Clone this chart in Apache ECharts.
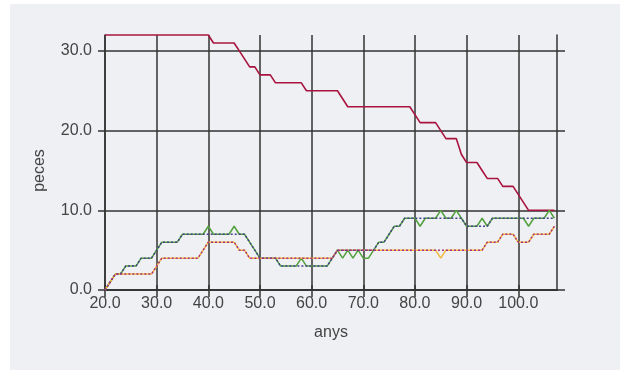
<!DOCTYPE html>
<html>
<head>
<meta charset="utf-8">
<script src="https://cdn.jsdelivr.net/npm/echarts@6/dist/echarts.min.js"></script>
<style>
  html, body { margin: 0; padding: 0; background: #ffffff; }
  #chart { position: absolute; left: 10px; top: 4px; width: 610px; height: 366px; }
</style>
</head>
<body>
<div id="chart"></div>
<script>
// ---- data ----
const years = [20,21,22,23,24,25,26,27,28,29,
  30,31,32,33,34,35,36,37,38,39,
  40,41,42,43,44,45,46,47,48,49,
  50,51,52,53,54,55,56,57,58,59,
  60,61,62,63,64,65,66,67,68,69,
  70,71,72,73,74,75,76,77,78,79,
  80,81,82,83,84,85,86,87,88,89,
  90,91,92,93,94,95,96,97,98,99,
  100,101,102,103,104,105,106,107];

const redSeries = [32,32,32,32,32,32,32,32,32,32,
  32,32,32,32,32,32,32,32,32,32,
  32,31,31,31,31,31,30,29,28,28,
  27,27,27,26,26,26,26,26,26,25,
  25,25,25,25,25,25,24,23,23,23,
  23,23,23,23,23,23,23,23,23,23,
  22,21,21,21,21,20,19,19,19,17,
  16,16,16,15,14,14,14,13,13,13,
  12,11,10,10,10,10,10,10];

const greenSeries = [0,1,2,2,3,3,3,4,4,4,
  5,6,6,6,6,7,7,7,7,7,
  8,7,7,7,7,8,7,7,6,5,
  4,4,4,4,3,3,3,3,4,3,
  3,3,3,3,4,5,4,5,4,5,
  4,4,5,6,6,7,8,8,9,9,
  9,8,9,9,9,10,9,9,10,9,
  8,8,8,9,8,9,9,9,9,9,
  9,9,8,9,9,9,10,9];

const blueSeries = [0,1,2,2,3,3,3,4,4,4,
  5,6,6,6,6,7,7,7,7,7,
  7,7,7,7,7,7,7,7,6,5,
  4,4,4,4,3,3,3,3,3,3,
  3,3,3,3,4,5,5,5,5,5,
  5,5,5,6,6,7,8,8,9,9,
  9,9,9,9,9,9,9,9,9,9,
  8,8,8,8,8,9,9,9,9,9,
  9,9,9,9,9,9,9,9];

const orangeSeries = [0,1,2,2,2,2,2,2,2,2,
  3,4,4,4,4,4,4,4,4,5,
  6,6,6,6,6,6,5,5,4,4,
  4,4,4,4,4,4,4,4,4,4,
  4,4,4,4,4,5,5,5,5,5,
  5,5,5,5,5,5,5,5,5,5,
  5,5,5,5,5,4,5,5,5,5,
  5,5,5,5,6,6,6,7,7,7,
  6,6,6,7,7,7,7,8];

const magentaSeries = [0,1,2,2,2,2,2,2,2,2,
  3,4,4,4,4,4,4,4,4,5,
  6,6,6,6,6,6,5,5,4,4,
  4,4,4,4,4,4,4,4,4,4,
  4,4,4,4,4,5,5,5,5,5,
  5,5,5,5,5,5,5,5,5,5,
  5,5,5,5,5,5,5,5,5,5,
  5,5,5,5,6,6,6,7,7,7,
  6,6,6,7,7,7,7,8];

const xTicks = [20,30,40,50,60,70,80,90,100];
const yTicks = [0,10,20,30];
const xName = 'anys';
const yName = 'peces';

// ---- chart ----
const gridColor = '#333333';
const textColor = '#444444';
const font = 'Liberation Sans, Arial, sans-serif';
const lineS = { color: gridColor, width: 1.5 };

function pairs(arr) { return years.map((x, i) => [x, arr[i]]); }

const chart = echarts.init(document.getElementById('chart'), null, { renderer: 'canvas' });
chart.setOption({
  backgroundColor: '#eef0f3',
  animation: false,
  grid: { left: 95, right: 63, top: 31, bottom: 80 },
  xAxis: [
    {
      type: 'value', min: 20, max: 107.5, interval: 10, position: 'bottom',
      axisLine: { show: true, lineStyle: lineS },
      axisTick: { show: true, length: 7, lineStyle: lineS, customValues: xTicks },
      splitLine: { show: true, lineStyle: lineS },
      axisLabel: { customValues: xTicks, formatter: v => v.toFixed(1), color: textColor, fontSize: 16, margin: 6, fontFamily: font },
      name: xName, nameLocation: 'middle', nameGap: 35,
      nameTextStyle: { color: textColor, fontSize: 16, fontFamily: font }
    },
    {
      type: 'value', min: 20, max: 107.5, interval: 10, position: 'top',
      axisLine: { show: true, lineStyle: lineS },
      axisTick: { show: true, length: 5, lineStyle: lineS, customValues: xTicks },
      splitLine: { show: false },
      axisLabel: { show: false }
    }
  ],
  yAxis: [
    {
      type: 'value', min: 0, max: 32, interval: 10, position: 'left',
      axisLine: { show: true, lineStyle: lineS },
      axisTick: { show: true, length: 7, lineStyle: lineS, customValues: yTicks },
      splitLine: { show: true, lineStyle: lineS },
      axisLabel: { customValues: yTicks, formatter: v => v.toFixed(1), color: textColor, fontSize: 16, margin: 13, fontFamily: font },
      name: yName, nameLocation: 'middle', nameGap: 57, nameRotate: 90,
      nameTextStyle: { color: textColor, fontSize: 16, fontFamily: font, padding: [0, 16, 0, 0] }
    },
    {
      type: 'value', min: 0, max: 32, interval: 10, position: 'right',
      axisLine: { show: true, lineStyle: lineS },
      axisTick: { show: true, length: 8, lineStyle: lineS, customValues: yTicks },
      splitLine: { show: false },
      axisLabel: { show: false }
    }
  ],
  series: [
    { name: 'red', type: 'line', data: pairs(redSeries), showSymbol: false, clip: false,
      lineStyle: { color: '#a8143f', width: 1.6 }, z: 3 },
    { name: 'green', type: 'line', data: pairs(greenSeries), showSymbol: false, clip: false,
      lineStyle: { color: '#52a03e', width: 1.5 }, z: 3 },
    { name: 'orange', type: 'line', data: pairs(orangeSeries), showSymbol: false, clip: false,
      lineStyle: { color: '#f2b93e', width: 1.5 }, z: 3 },
    { name: 'blue', type: 'line', data: pairs(blueSeries), showSymbol: false, clip: false,
      lineStyle: { color: '#45408a', width: 1.5, type: [2, 2] }, z: 4 },
    { name: 'magenta', type: 'line', data: pairs(magentaSeries), showSymbol: false, clip: false,
      lineStyle: { color: '#a8327e', width: 1.5, type: [2, 2] }, z: 4 }
  ]
});
</script>
</body>
</html>
